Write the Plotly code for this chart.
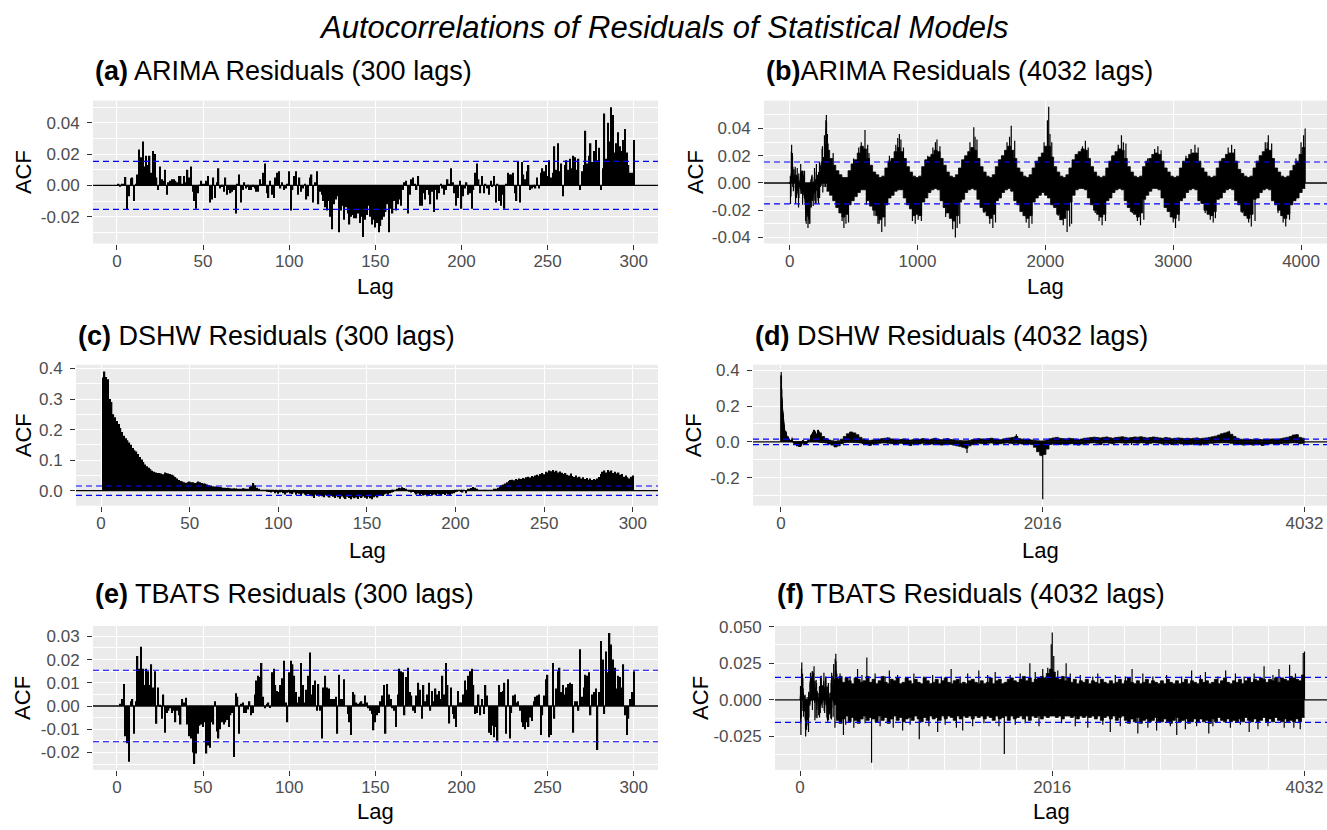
import plotly.graph_objects as go

FONT = "Liberation Sans, Arial, Helvetica, sans-serif"
W, H = 1327, 830

# ---------------- data ----------------
lags300 = list(range(1, 301))

acf_arima_300 = [
    0.0005, -0.0008, 0.0006, 0.0010, 0.0054, -0.0155, -0.0070, 0.0045, 0.0050, -0.0100,
    0.0005, 0.0070, 0.0230, 0.0180, 0.0280, 0.0120, 0.0190, 0.0130, 0.0190, 0.0080,
    0.0220, 0.0200, 0.0050, -0.0030, 0.0120, 0.0040, 0.0030, 0.0100, -0.0060, 0.0020,
    0.0030, 0.0040, 0.0040, 0.0030, 0.0020, 0.0060, 0.0060, 0.0010, 0.0060, 0.0020,
    0.0100, 0.0050, 0.0120, -0.0040, -0.0100, -0.0150, -0.0050, 0.0003, 0.0030, 0.0010,
    0.0005, 0.0030, 0.0060, -0.0110, -0.0090, 0.0050, -0.0080, 0.0020, 0.0110, -0.0020,
    -0.0010, -0.0040, 0.0050, -0.0060, -0.0030, -0.0050, -0.0040, -0.0030, -0.0180, 0.0005,
    0.0070, -0.0110, -0.0030, 0.0020, -0.0020, -0.0010, -0.0030, -0.0030, -0.0010, -0.0020,
    -0.0040, -0.0040, 0.0040, 0.0005, 0.0080, 0.0140, -0.0050, -0.0080, 0.0030, -0.0060,
    -0.0080, 0.0050, 0.0080, 0.0090, -0.0020, 0.0020, -0.0030, -0.0020, 0.0005, 0.0090,
    -0.0160, -0.0030, 0.0060, 0.0090, -0.0060, 0.0050, -0.0040, -0.0020, 0.0005, -0.0090,
    -0.0070, 0.0050, 0.0070, -0.0110, 0.0020, 0.0090, -0.0120, -0.0040, -0.0060, -0.0100,
    -0.0140, -0.0160, -0.0100, -0.0200, -0.0280, -0.0120, -0.0090, -0.0070, -0.0300, -0.0160,
    -0.0130, -0.0220, -0.0140, -0.0180, -0.0250, -0.0200, -0.0190, -0.0210, -0.0210, -0.0180,
    -0.0240, -0.0200, -0.0330, -0.0220, -0.0190, -0.0130, -0.0200, -0.0250, -0.0220, -0.0270,
    -0.0240, -0.0300, -0.0260, -0.0220, -0.0200, -0.0170, -0.0120, -0.0300, -0.0150, -0.0180,
    -0.0100, -0.0160, -0.0120, -0.0090, -0.0130, -0.0030, 0.0020, 0.0030, -0.0180, -0.0060,
    0.0040, 0.0050, 0.0005, -0.0030, 0.0060, -0.0130, -0.0130, -0.0050, -0.0090, -0.0030,
    -0.0060, -0.0120, -0.0040, -0.0170, -0.0030, -0.0090, -0.0050, 0.0010, -0.0020, -0.0060,
    -0.0030, 0.0040, 0.0010, 0.0110, 0.0020, -0.0050, -0.0130, -0.0080, 0.0030, -0.0150,
    -0.0070, -0.0020, 0.0020, -0.0060, -0.0050, -0.0150, -0.0030, 0.0080, 0.0140, 0.0040,
    -0.0050, 0.0060, -0.0050, 0.0010, -0.0020, -0.0060, 0.0030, -0.0010, 0.0060, -0.0110,
    0.0005, -0.0100, -0.0130, -0.0060, -0.0150, 0.0005, 0.0080, 0.0070, 0.0070, 0.0080,
    -0.0050, -0.0100, 0.0150, -0.0110, 0.0150, 0.0070, 0.0040, 0.0090, 0.0130, -0.0030,
    -0.0020, -0.0010, -0.0020, 0.0050, -0.0020, 0.0080, 0.0110, 0.0090, 0.0130, 0.0060,
    0.0160, 0.0050, 0.0080, 0.0250, 0.0100, 0.0270, 0.0090, 0.0140, -0.0070, 0.0130,
    0.0160, 0.0100, 0.0170, 0.0110, 0.0190, 0.0180, 0.0100, 0.0170, -0.0030, 0.0090,
    0.0130, 0.0350, 0.0140, 0.0190, 0.0270, 0.0150, 0.0220, 0.0290, 0.0160, 0.0240,
    -0.0030, 0.0110, 0.0460, 0.0170, 0.0400, 0.0280, 0.0500, 0.0450, 0.0210, 0.0270,
    0.0340, 0.0250, 0.0220, 0.0290, 0.0360, 0.0210, 0.0130, 0.0080, 0.0080, 0.0290,
]

acf_dshw_300 = [
    0.370, 0.390, 0.372, 0.365, 0.300, 0.290, 0.250, 0.240, 0.228, 0.218,
    0.205, 0.192, 0.180, 0.172, 0.165, 0.158, 0.150, 0.140, 0.132, 0.128,
    0.120, 0.110, 0.102, 0.094, 0.086, 0.080, 0.075, 0.070, 0.065, 0.062,
    0.060, 0.058, 0.058, 0.056, 0.054, 0.060, 0.058, 0.056, 0.055, 0.052,
    0.050, 0.045, 0.040, 0.035, 0.032, 0.030, 0.028, 0.026, 0.028, 0.030,
    0.028, 0.028, 0.025, 0.027, 0.030, 0.028, 0.025, 0.024, 0.023, 0.020,
    0.018, 0.016, 0.015, 0.014, 0.014, 0.013, 0.012, 0.011, 0.010, 0.010,
    0.009, 0.010, 0.008, 0.007, 0.008, 0.007, 0.006, 0.006, 0.006, 0.008,
    0.007, 0.006, 0.005, 0.012, 0.015, 0.025, 0.018, 0.010, 0.006, 0.003,
    0.002, 0.001, 0.0005, -0.002, -0.004, -0.006, -0.003, -0.008, -0.005, -0.010,
    -0.006, -0.004, -0.008, -0.012, -0.007, -0.005, -0.009, -0.011, -0.006, -0.013,
    -0.008, -0.010, -0.015, -0.009, -0.012, -0.016, -0.011, -0.014, -0.018, -0.024,
    -0.013, -0.016, -0.019, -0.014, -0.018, -0.021, -0.015, -0.019, -0.022, -0.017,
    -0.020, -0.024, -0.018, -0.021, -0.026, -0.019, -0.023, -0.027, -0.020, -0.024,
    -0.028, -0.021, -0.025, -0.022, -0.027, -0.020, -0.024, -0.019, -0.023, -0.026,
    -0.020, -0.025, -0.028, -0.021, -0.018, -0.022, -0.016, -0.014, -0.017, -0.012,
    -0.010, -0.013, -0.008, -0.006, -0.004, 0.002, 0.006, 0.010, 0.008, 0.011,
    0.009, 0.004, 0.002, -0.003, -0.006, -0.004, -0.008, -0.012, -0.009, -0.014,
    -0.011, -0.016, -0.013, -0.018, -0.014, -0.011, -0.016, -0.012, -0.015, -0.010,
    -0.013, -0.017, -0.011, -0.014, -0.009, -0.012, -0.016, -0.010, -0.008, -0.005,
    -0.003, 0.002, -0.004, -0.006, 0.003, -0.008, 0.004, 0.006, 0.009, 0.012,
    0.010, 0.006, 0.003, 0.001, 0.002, 0.001, 0.002, 0.001, 0.002, 0.003,
    0.002, 0.004, 0.006, 0.010, 0.014, 0.018, 0.020, 0.024, 0.028, 0.032,
    0.035, 0.036, 0.034, 0.038, 0.036, 0.040, 0.038, 0.042, 0.040, 0.044,
    0.046, 0.043, 0.048, 0.046, 0.050, 0.052, 0.049, 0.055, 0.058, 0.054,
    0.062, 0.060, 0.066, 0.064, 0.068, 0.062, 0.065, 0.060, 0.063, 0.059,
    0.055, 0.058, 0.052, 0.050, 0.056, 0.048, 0.045, 0.050, 0.043, 0.046,
    0.040, 0.044, 0.038, 0.042, 0.036, 0.040, 0.035, 0.038, 0.036, 0.040,
    0.045, 0.055, 0.062, 0.066, 0.060, 0.068, 0.063, 0.066, 0.058, 0.062,
    0.056, 0.060, 0.052, 0.055, 0.046, 0.050, 0.044, 0.040, 0.046, 0.050,
]

acf_tbats_300 = [
    0.000, 0.001,
    0.003, 0.0095, -0.013, -0.016, -0.024, 0.002, 0.003, -0.012, 0.002, 0.0215,
    0.016, 0.0255, 0.016, 0.009, 0.016, 0.015, 0.009, 0.018, 0.008, 0.015,
    -0.0077, 0.008, 0.0005, -0.0055, 0.005, -0.0115, -0.003, -0.002, -0.001, -0.003,
    -0.002,
    -0.007, -0.002, -0.004, -0.008, 0.003, 0.0015, 0.0035, -0.008, -0.013, -0.014,
    -0.020, -0.025, -0.0205, -0.012, -0.0085, -0.008, -0.009, -0.007, -0.0205, -0.017,
    -0.018, -0.007, -0.008, 0.002, -0.011, -0.014, -0.010, -0.007, -0.008, -0.007,
    -0.006,
    -0.009, -0.004, -0.003, -0.022, 0.0055, 0.004, -0.012, 0.001, 0.0015, -0.003,
    -0.003, -0.0015, 0.002, -0.004, -0.003, 0.005, 0.011, 0.013, 0.0125, 0.0185,
    0.004,
    -0.001, 0.001, 0.0015, -0.0005, 0.0145, 0.016, 0.009, 0.0065, 0.006, 0.009,
    0.012, 0.0195, 0.0015, -0.007, 0.0145, 0.0195, 0.018, 0.013, 0.006, 0.0015,
    0.004,
    0.0185, 0.009, 0.0015, 0.007, 0.013, 0.023, 0.005, 0.009, 0.011, -0.002,
    0.0095, -0.002, -0.014, 0.008, 0.013, 0.008, 0.0075, 0.003, 0.003,
    0.003, 0.004, -0.012, 0.0135, 0.003, 0.003, 0.0115, 0.0, -0.0035, -0.007,
    -0.0125, 0.006, 0.005, 0.0015, 0.001, 0.0015, 0.002, 0.001, 0.0045, 0.0015,
    -0.001, -0.002, -0.0035, -0.0105, -0.007, -0.004, -0.003, 0.002, 0.0045, 0.009,
    -0.012, 0.0095, 0.005, 0.003, -0.001, -0.002, -0.009, 0.005, 0.016, 0.015,
    0.0145, -0.004, 0.0125, 0.0165, 0.006, 0.0045, -0.002, -0.003, 0.0045, 0.010,
    0.007, -0.0055, 0.009, 0.002, 0.005, 0.010, -0.002, 0.0065, 0.002, 0.0075,
    0.005, 0.0065, 0.003, 0.013, 0.005, 0.0185, 0.009, -0.0075, 0.008, -0.0035,
    -0.0055, -0.009, 0.0065, 0.0015, 0.0015, 0.005, 0.011, 0.007, 0.013, 0.015,
    0.016, 0.009, -0.0035, -0.003, 0.005, -0.004, 0.003, -0.0035, 0.009, 0.0045,
    -0.0115, -0.0125, -0.0085, -0.0135, -0.009, -0.015, 0.009, 0.006, 0.0065, 0.010,
    -0.012, 0.0115, -0.014, -0.003, 0.0045, 0.005, 0.0015, 0.002, -0.002, -0.007,
    -0.009, -0.010, -0.007, -0.009, -0.005, -0.0065, 0.002, 0.004, 0.0045, 0.005,
    -0.0125, -0.004, 0.0045, 0.0115, 0.0135, -0.0135, -0.0125, 0.0185, -0.0055, 0.0075,
    0.015, 0.0165, 0.006, 0.009, 0.005, 0.008, 0.0095, 0.010, 0.0095, -0.0115,
    0.002, 0.002, -0.002, 0.0245, 0.004, 0.008, 0.0135, 0.013, 0.0145, -0.004,
    0.005, 0.006, 0.0075, -0.019, 0.006, 0.028, 0.020, -0.0035, 0.0235, 0.0145,
    0.0315, 0.0265, 0.020, 0.0165, 0.0075, 0.013, 0.0125, 0.008, 0.018, -0.004,
    -0.0125, -0.0055, 0.003, 0.006, 0.015,
]

# 4032-lag panels: lags 1-300 come from the arrays above; lags 289-4032 are
# summarised as the upper / lower edge of the dense bar band in 24-lag bins,
# plus the individual lags that stick out of that band
BIN = 24
bin_starts = list(range(289, 4033, BIN))

arima_hi = [
    0.024, 0.018, 0.013, 0.009, 0.006, 0.004, 0.004, 0.009, 0.014, 0.017, 0.022, 0.027,
    0.025, 0.018, 0.013, 0.008, 0.006, 0.004, 0.005, 0.011, 0.016, 0.018, 0.023, 0.026,
    0.023, 0.018, 0.012, 0.008, 0.005, 0.004, 0.005, 0.012, 0.017, 0.019, 0.021, 0.024,
    0.023, 0.018, 0.013, 0.008, 0.005, 0.004, 0.006, 0.011, 0.017, 0.020, 0.023, 0.026,
    0.024, 0.018, 0.012, 0.008, 0.005, 0.004, 0.006, 0.012, 0.017, 0.020, 0.024, 0.027,
    0.024, 0.018, 0.011, 0.008, 0.005, 0.004, 0.006, 0.011, 0.016, 0.019, 0.022, 0.027,
    0.027, 0.019, 0.012, 0.008, 0.005, 0.004, 0.006, 0.011, 0.017, 0.021, 0.023, 0.025,
    0.024, 0.018, 0.012, 0.008, 0.005, 0.004, 0.005, 0.011, 0.016, 0.020, 0.023, 0.025,
    0.024, 0.018, 0.012, 0.008, 0.005, 0.004, 0.005, 0.012, 0.016, 0.018, 0.021, 0.022,
    0.021, 0.016, 0.011, 0.008, 0.005, 0.004, 0.005, 0.011, 0.016, 0.018, 0.021, 0.022,
    0.022, 0.016, 0.011, 0.008, 0.005, 0.004, 0.005, 0.011, 0.016, 0.018, 0.021, 0.022,
    0.022, 0.016, 0.010, 0.007, 0.005, 0.004, 0.005, 0.011, 0.016, 0.020, 0.023, 0.025,
    0.024, 0.018, 0.011, 0.008, 0.005, 0.004, 0.005, 0.009, 0.013, 0.016, 0.021, 0.026,
]
arima_lo = [
    -0.006, -0.009, -0.013, -0.018, -0.022, -0.025, -0.023, -0.016, -0.013, -0.010, -0.007, -0.005,
    -0.005, -0.013, -0.017, -0.020, -0.024, -0.027, -0.025, -0.016, -0.011, -0.009, -0.006, -0.005,
    -0.005, -0.011, -0.016, -0.019, -0.024, -0.023, -0.024, -0.014, -0.011, -0.007, -0.005, -0.004,
    -0.005, -0.013, -0.018, -0.022, -0.026, -0.028, -0.024, -0.014, -0.012, -0.007, -0.005, -0.004,
    -0.005, -0.012, -0.018, -0.021, -0.024, -0.026, -0.023, -0.013, -0.011, -0.007, -0.005, -0.004,
    -0.006, -0.013, -0.016, -0.021, -0.024, -0.026, -0.024, -0.014, -0.011, -0.009, -0.007, -0.009,
    -0.011, -0.016, -0.018, -0.023, -0.027, -0.026, -0.020, -0.014, -0.009, -0.005, -0.004, -0.004,
    -0.005, -0.011, -0.016, -0.020, -0.023, -0.025, -0.023, -0.013, -0.011, -0.007, -0.005, -0.004,
    -0.005, -0.013, -0.018, -0.021, -0.023, -0.025, -0.022, -0.012, -0.009, -0.006, -0.004, -0.004,
    -0.005, -0.011, -0.018, -0.021, -0.025, -0.026, -0.023, -0.013, -0.011, -0.007, -0.005, -0.004,
    -0.005, -0.013, -0.015, -0.020, -0.023, -0.024, -0.021, -0.012, -0.011, -0.007, -0.005, -0.004,
    -0.005, -0.013, -0.016, -0.021, -0.024, -0.026, -0.023, -0.012, -0.011, -0.007, -0.005, -0.004,
    -0.005, -0.013, -0.016, -0.020, -0.024, -0.026, -0.023, -0.016, -0.013, -0.011, -0.007, -0.004,
]
arima_spike_lags = [
    340, 410, 424, 440, 460, 500, 540, 560, 589, 600, 610, 620, 660, 690, 700, 720, 745, 780,
    830, 845, 858, 870, 890, 960, 982, 1005, 1030, 1080, 1120, 1140, 1152, 1175, 1220, 1275,
    1296, 1310, 1330, 1370, 1410, 1440, 1450, 1465, 1520, 1565, 1589, 1610, 1660, 1700, 1720,
    1733, 1760, 1850, 1872, 1895, 1990, 2016, 2026, 2036, 2050, 2100, 2140, 2170, 2190, 2205,
    2240, 2290, 2313, 2335, 2390, 2420, 2444, 2470, 2520, 2570, 2595, 2610, 2630, 2680, 2720,
    2744, 2770, 2800, 2855, 2880, 2905, 2960, 3000, 3018, 3045, 3100, 3140, 3170, 3195, 3250,
    3290, 3313, 3330, 3380, 3430, 3457, 3480, 3540, 3590, 3611, 3640, 3680, 3720, 3735, 3744,
    3770, 3820, 3860, 3880, 3910, 3960, 4000, 4020, 4032]
arima_spike_vals = [
    0.022, -0.028, -0.033, -0.030, -0.029, 0.018, 0.026, 0.030, 0.039, -0.016, 0.028, 0.022,
    -0.024, -0.030, -0.030, -0.036, -0.032, 0.020, 0.028, 0.033, 0.036, 0.032, 0.026, -0.028,
    -0.030, -0.027, -0.028, 0.020, 0.026, 0.030, 0.032, 0.027, -0.025, -0.034, -0.040, -0.033,
    -0.030, 0.018, 0.030, 0.041, 0.034, 0.032, -0.022, -0.030, -0.033, -0.029, 0.020, 0.030,
    0.034, 0.042, 0.031, -0.029, -0.033, -0.030, 0.030, 0.046, 0.056, 0.036, 0.030, -0.024,
    -0.031, -0.036, -0.032, -0.030, 0.018, 0.027, 0.031, 0.026, -0.022, -0.028, -0.031, -0.028,
    0.020, 0.028, 0.035, 0.030, 0.029, -0.022, -0.028, -0.031, -0.027, 0.018, 0.025, 0.027,
    0.024, -0.020, -0.029, -0.033, -0.028, 0.020, 0.025, 0.028, 0.026, -0.022, -0.027, -0.029,
    -0.026, 0.018, 0.026, 0.028, 0.025, -0.022, -0.029, -0.032, -0.028, 0.020, 0.030, 0.030,
    0.035, 0.029, -0.022, -0.029, -0.032, -0.027, 0.018, 0.030, 0.035, 0.040]

dshw_hi = [
    0.050, 0.030, 0.018, 0.010, 0.006, 0.004, 0.006, 0.015, 0.030, 0.045, 0.055, 0.050,
    0.040, 0.025, 0.015, 0.010, 0.008, 0.010, 0.012, 0.015, 0.018, 0.020, 0.022, 0.016,
    0.012, 0.010, 0.014, 0.016, 0.012, 0.010, 0.012, 0.016, 0.014, 0.018, 0.015, 0.012,
    0.016, 0.020, 0.014, 0.012, 0.015, 0.018, 0.013, 0.010, 0.008, 0.008, 0.006, 0.006,
    0.008, 0.012, 0.015, 0.018, 0.016, 0.014, 0.018, 0.020, 0.016, 0.014, 0.012, 0.016,
    0.020, 0.022, 0.025, 0.030, 0.018, 0.015, 0.012, 0.015, 0.010, 0.008, 0.006, 0.005,
    0.006, 0.010, 0.018, 0.022, 0.025, 0.020, 0.018, 0.016, 0.020, 0.018, 0.015, 0.012,
    0.016, 0.020, 0.022, 0.024, 0.026, 0.024, 0.022, 0.025, 0.027, 0.023, 0.020, 0.024,
    0.026, 0.028, 0.025, 0.022, 0.024, 0.027, 0.026, 0.028, 0.025, 0.022, 0.024, 0.027,
    0.025, 0.022, 0.020, 0.024, 0.022, 0.018, 0.020, 0.022, 0.020, 0.018, 0.020, 0.018,
    0.020, 0.022, 0.018, 0.020, 0.022, 0.025, 0.028, 0.032, 0.038, 0.045, 0.050, 0.055,
    0.042, 0.030, 0.020, 0.015, 0.012, 0.015, 0.014, 0.012, 0.016, 0.014, 0.012, 0.014,
    0.015, 0.016, 0.014, 0.015, 0.018, 0.022, 0.025, 0.030, 0.038, 0.040, 0.025, 0.020,
]
dshw_lo = [
    -0.002, -0.004, -0.006, -0.012, -0.018, -0.028, -0.022, -0.010, -0.004, -0.002, -0.002, -0.003,
    -0.004, -0.006, -0.010, -0.012, -0.020, -0.012, -0.010, -0.008, -0.006, -0.006, -0.008, -0.010,
    -0.012, -0.010, -0.008, -0.012, -0.015, -0.020, -0.012, -0.010, -0.012, -0.008, -0.010, -0.014,
    -0.012, -0.010, -0.015, -0.018, -0.012, -0.010, -0.014, -0.018, -0.022, -0.025, -0.030, -0.035,
    -0.022, -0.015, -0.010, -0.008, -0.010, -0.012, -0.008, -0.006, -0.010, -0.012, -0.010, -0.008,
    -0.006, -0.008, -0.010, -0.008, -0.010, -0.012, -0.010, -0.012, -0.015, -0.030, -0.055, -0.075,
    -0.070, -0.040, -0.015, -0.010, -0.012, -0.015, -0.012, -0.016, -0.012, -0.010, -0.014, -0.018,
    -0.012, -0.010, -0.008, -0.006, -0.005, -0.008, -0.015, -0.006, -0.005, -0.008, -0.010, -0.006,
    -0.005, -0.006, -0.008, -0.006, -0.005, -0.006, -0.008, -0.005, -0.006, -0.010, -0.008, -0.005,
    -0.006, -0.008, -0.012, -0.008, -0.010, -0.015, -0.010, -0.008, -0.012, -0.010, -0.012, -0.014,
    -0.010, -0.012, -0.018, -0.012, -0.010, -0.008, -0.008, -0.006, -0.006, -0.005, -0.005, -0.006,
    -0.008, -0.010, -0.012, -0.015, -0.018, -0.012, -0.015, -0.018, -0.012, -0.015, -0.020, -0.015,
    -0.012, -0.010, -0.012, -0.015, -0.010, -0.008, -0.008, -0.006, -0.005, -0.006, -0.010, -0.008,
]
dshw_spike_lags = [820, 1000, 1433, 1813, 2010, 2016, 2700, 3100, 3452, 3974]
dshw_spike_vals = [0.025, -0.022, -0.062, 0.042, -0.080, -0.320, -0.018, -0.020, 0.062, 0.042]

tbats_hi = [
    0.014, 0.016, 0.012, 0.015, 0.013, 0.011, 0.015, 0.014, 0.012, 0.013, 0.016, 0.012,
    0.014, 0.011, 0.013, 0.016, 0.012, 0.011, 0.014, 0.013, 0.015, 0.011, 0.012, 0.015,
    0.013, 0.011, 0.014, 0.012, 0.011, 0.015, 0.013, 0.011, 0.012, 0.014, 0.011, 0.013,
    0.015, 0.012, 0.011, 0.013, 0.014, 0.011, 0.012, 0.011, 0.013, 0.014, 0.012, 0.011,
    0.013, 0.011, 0.012, 0.015, 0.011, 0.013, 0.014, 0.011, 0.012, 0.014, 0.015, 0.013,
    0.012, 0.014, 0.016, 0.013, 0.015, 0.012, 0.014, 0.015, 0.016, 0.015, 0.018, 0.021,
    0.019, 0.015, 0.014, 0.016, 0.013, 0.015, 0.012, 0.014, 0.011, 0.013, 0.012, 0.014,
    0.011, 0.013, 0.012, 0.011, 0.014, 0.012, 0.011, 0.013, 0.011, 0.012, 0.014, 0.011,
    0.013, 0.015, 0.012, 0.011, 0.013, 0.011, 0.012, 0.014, 0.011, 0.013, 0.012, 0.011,
    0.013, 0.011, 0.014, 0.012, 0.011, 0.013, 0.011, 0.012, 0.014, 0.011, 0.013, 0.012,
    0.011, 0.014, 0.012, 0.013, 0.011, 0.012, 0.014, 0.011, 0.013, 0.015, 0.012, 0.011,
    0.013, 0.012, 0.014, 0.011, 0.013, 0.015, 0.012, 0.014, 0.013, 0.015, 0.014, 0.012,
    0.014, 0.013, 0.015, 0.012, 0.015, 0.014, 0.013, 0.016, 0.015, 0.014, 0.013, 0.017,
]
tbats_lo = [
    -0.014, -0.016, -0.013, -0.011, -0.015, -0.012, -0.014, -0.016, -0.013, -0.011, -0.014, -0.012,
    -0.013, -0.015, -0.011, -0.014, -0.012, -0.016, -0.013, -0.011, -0.014, -0.012, -0.015, -0.013,
    -0.012, -0.014, -0.011, -0.013, -0.015, -0.012, -0.014, -0.011, -0.013, -0.012, -0.014, -0.011,
    -0.013, -0.011, -0.012, -0.014, -0.011, -0.013, -0.011, -0.012, -0.011, -0.013, -0.011, -0.012,
    -0.011, -0.013, -0.011, -0.012, -0.014, -0.011, -0.013, -0.012, -0.011, -0.014, -0.011, -0.013,
    -0.012, -0.011, -0.013, -0.011, -0.014, -0.011, -0.012, -0.011, -0.013, -0.011, -0.012, -0.011,
    -0.011, -0.012, -0.011, -0.013, -0.011, -0.011, -0.012, -0.011, -0.013, -0.011, -0.012, -0.011,
    -0.012, -0.011, -0.013, -0.011, -0.014, -0.012, -0.011, -0.013, -0.011, -0.014, -0.012, -0.011,
    -0.014, -0.016, -0.013, -0.015, -0.012, -0.016, -0.014, -0.013, -0.015, -0.014, -0.012, -0.015,
    -0.015, -0.013, -0.015, -0.016, -0.014, -0.012, -0.015, -0.014, -0.013, -0.016, -0.015, -0.013,
    -0.015, -0.013, -0.015, -0.014, -0.016, -0.013, -0.015, -0.012, -0.014, -0.015, -0.013, -0.015,
    -0.014, -0.015, -0.013, -0.015, -0.012, -0.014, -0.015, -0.013, -0.015, -0.014, -0.012, -0.015,
    -0.013, -0.015, -0.012, -0.014, -0.015, -0.013, -0.015, -0.014, -0.015, -0.013, -0.015, -0.012,
]
tbats_spike_lags = [
    320, 347, 365, 400, 430, 460, 495, 520, 534, 572, 600, 640, 680, 714, 745, 780, 820, 850,
    880, 910, 953, 990, 1030, 1060, 1100, 1130, 1160, 1208, 1250, 1280, 1300, 1340, 1380,
    1429, 1470, 1500, 1560, 1590, 1633, 1680, 1720, 1760, 1800, 1837, 1880, 1910, 1940, 1980,
    2008, 2016, 2028, 2060, 2090, 2127, 2160, 2200, 2240, 2300, 2340, 2380, 2420, 2480, 2520,
    2560, 2600, 2654, 2700, 2740, 2780, 2820, 2850, 2930, 2960, 3011, 3050, 3080, 3130, 3170,
    3200, 3240, 3267, 3300, 3340, 3402, 3440, 3480, 3520, 3550, 3590, 3630, 3660, 3709, 3740,
    3780, 3828, 3870, 3913, 3947, 3960, 3998, 4022, 4032]
tbats_spike_vals = [
    0.018, -0.024, -0.017, 0.016, -0.019, 0.021, 0.017, -0.016, 0.029, -0.043, 0.018, -0.018,
    0.016, 0.020, -0.019, 0.017, -0.021, 0.015, -0.017, 0.018, -0.027, 0.016, -0.018, 0.017,
    -0.022, 0.016, -0.017, 0.021, -0.019, 0.016, -0.021, 0.018, -0.018, 0.020, -0.016, 0.017,
    0.019, -0.018, -0.037, 0.017, -0.017, 0.018, -0.016, 0.025, 0.019, -0.018, 0.021, 0.022,
    0.038, 0.046, 0.030, 0.020, -0.016, 0.025, 0.018, -0.018, 0.017, -0.019, 0.016, 0.018,
    -0.017, -0.022, 0.017, -0.018, 0.016, 0.021, -0.023, 0.018, -0.019, 0.016, -0.021, 0.017,
    -0.018, -0.024, 0.016, -0.020, 0.020, -0.018, 0.017, 0.019, -0.023, -0.018, 0.016, 0.020,
    -0.019, 0.018, -0.017, 0.016, -0.022, 0.018, -0.020, 0.023, -0.018, 0.017, 0.021, -0.019,
    0.024, -0.019, 0.018, -0.020, 0.032, 0.033]

CI = 0.0154

titles = {
    "a": "<b>(a)</b> ARIMA Residuals (300 lags)",
    "b": "<b>(b)</b>ARIMA Residuals (4032 lags)",
    "c": "<b>(c)</b> DSHW Residuals (300 lags)",
    "d": "<b>(d)</b> DSHW Residuals (4032 lags)",
    "e": "<b>(e)</b> TBATS Residuals (300 lags)",
    "f": "<b>(f)</b> TBATS Residuals (4032 lags)",
}
main_title = "Autocorrelations of Residuals of Statistical Models"

# ---------------- layout geometry (pixels) ----------------
panels = {
    #     idx  left right  top  bottom
    "a": (1, 93, 658, 94, 239),
    "b": (2, 764, 1327, 94, 239),
    "c": (3, 76, 658, 362, 505),
    "d": (4, 753, 1327, 362, 505),
    "e": (5, 93, 658, 627, 773),
    "f": (6, 775, 1327, 627, 773),
}
lag_title_y = {"a": 283, "b": 283, "c": 550, "d": 550, "e": 815, "f": 815}
title_y = {"a": 64, "b": 64, "c": 333, "d": 333, "e": 595, "f": 595}
acf_x = {"a": 23, "c": 23, "e": 23, "b": 695, "d": 693, "f": 701}

fig = go.Figure()


def ax_names(i):
    return ("x" if i == 1 else f"x{i}"), ("y" if i == 1 else f"y{i}")


def add_bars300(key, vals):
    i = panels[key][0]
    xa, ya = ax_names(i)
    fig.add_trace(go.Bar(x=lags300[:len(vals)], y=vals, width=0.8,
                         marker=dict(color="black", line=dict(width=0)),
                         xaxis=xa, yaxis=ya, hoverinfo="skip"))


def add_long(key, first300, hi, lo, sl, sv):
    i = panels[key][0]
    xa, ya = ax_names(i)
    edges = [s - 0.5 for s in bin_starts] + [bin_starts[-1] + BIN - 0.5]
    for env in (hi, lo):
        fig.add_trace(go.Scatter(x=edges, y=env + [env[-1]], mode="lines",
                                 line=dict(color="black", width=0.8, shape="hv"),
                                 fill="tozeroy", fillcolor="black",
                                 xaxis=xa, yaxis=ya, hoverinfo="skip"))
    xs, ys = [], []
    for l, v in zip(lags300, first300):
        xs += [l, l, None]
        ys += [0, v, None]
    for l, v in zip(sl, sv):
        xs += [l, l, None]
        ys += [0, v, None]
    fig.add_trace(go.Scatter(x=xs, y=ys, mode="lines",
                             line=dict(color="black", width=1.2),
                             xaxis=xa, yaxis=ya, hoverinfo="skip"))


add_bars300("a", acf_arima_300)
add_bars300("c", acf_dshw_300)
add_bars300("e", acf_tbats_300)
add_long("b", acf_arima_300, arima_hi, arima_lo, arima_spike_lags, arima_spike_vals)
add_long("d", acf_dshw_300, dshw_hi, dshw_lo, dshw_spike_lags, dshw_spike_vals)
add_long("f", acf_tbats_300, tbats_hi, tbats_lo, tbats_spike_lags, tbats_spike_vals)

x300_ticks = dict(tickvals=[0, 50, 100, 150, 200, 250, 300],
                  ticktext=["0", "50", "100", "150", "200", "250", "300"], minor=None)
axis_cfg = {
    "a": (dict(x300_ticks, range=[-13.9, 314.1]),
          dict(range=[-0.0372, 0.0542], tickvals=[-0.02, 0, 0.02, 0.04],
               ticktext=["-0.02", "0.00", "0.02", "0.04"],
               minor=[-0.03, -0.01, 0.01, 0.03, 0.05])),
    "b": (dict(range=[-201, 4203], tickvals=[0, 1000, 2000, 3000, 4000],
               ticktext=["0", "1000", "2000", "3000", "4000"], minor=None),
          dict(range=[-0.0445, 0.0605], tickvals=[-0.04, -0.02, 0, 0.02, 0.04],
               ticktext=["-0.04", "-0.02", "0.00", "0.02", "0.04"],
               minor=[-0.03, -0.01, 0.01, 0.03, 0.05])),
    "c": (dict(x300_ticks, range=[-14.1, 314.2]),
          dict(range=[-0.049, 0.412], tickvals=[0, 0.1, 0.2, 0.3, 0.4],
               ticktext=["0.0", "0.1", "0.2", "0.3", "0.4"],
               minor=[0.05, 0.15, 0.25, 0.35])),
    "d": (dict(range=[-215, 4205], tickvals=[0, 2016, 4032],
               ticktext=["0", "2016", "4032"], minor=None),
          dict(range=[-0.356, 0.43], tickvals=[-0.2, 0, 0.2, 0.4],
               ticktext=["-0.2", "0.0", "0.2", "0.4"],
               minor=[-0.3, -0.1, 0.1, 0.3])),
    "e": (dict(x300_ticks, range=[-13.9, 314.1]),
          dict(range=[-0.0275, 0.0345], tickvals=[-0.02, -0.01, 0, 0.01, 0.02, 0.03],
               ticktext=["-0.02", "-0.01", "0.00", "0.01", "0.02", "0.03"],
               minor=[-0.025, -0.015, -0.005, 0.005, 0.015, 0.025])),
    "f": (dict(range=[-200, 4212], tickvals=[0, 2016, 4032],
               ticktext=["0", "2016", "4032"],
               minor=[288 * k for k in range(1, 14) if k != 7]),
          dict(range=[-0.0478, 0.0505], tickvals=[-0.025, 0, 0.025, 0.05],
               ticktext=["-0.025", "0.000", "0.025", "0.050"],
               minor=[-0.0375, -0.0125, 0.0125, 0.0375])),
}

common = dict(showgrid=True, gridcolor="white", gridwidth=1.3, zeroline=False,
              showline=False, ticks="outside", ticklen=5, tickwidth=1.1,
              tickcolor="#333333", tickmode="array",
              tickfont=dict(family=FONT, size=17, color="#4D4D4D"))

layout = {}
shapes = []
annotations = []
for key, (i, l, r, t, b) in panels.items():
    xcfg, ycfg = axis_cfg[key]
    xa, ya = ax_names(i)
    xd = dict(common, domain=[l / W, r / W], anchor=ya, range=xcfg["range"],
              tickvals=xcfg["tickvals"], ticktext=xcfg["ticktext"],
              ticklabelstandoff=-3)
    if xcfg["minor"]:
        xd["minor"] = dict(tickmode="array", tickvals=xcfg["minor"], showgrid=True,
                           gridcolor="white", gridwidth=0.6, ticks="")
    yd = dict(common, domain=[1 - b / H, 1 - t / H], anchor=xa, range=ycfg["range"],
              tickvals=ycfg["tickvals"], ticktext=ycfg["ticktext"],
              ticklabelstandoff=4,
              minor=dict(tickmode="array", tickvals=ycfg["minor"], showgrid=True,
                         gridcolor="white", gridwidth=0.6, ticks=""))
    layout["xaxis" if i == 1 else f"xaxis{i}"] = xd
    layout["yaxis" if i == 1 else f"yaxis{i}"] = yd

    xref_dom = f"{xa} domain"
    shapes.append(dict(type="line", xref=xref_dom, yref=ya, x0=0, x1=1, y0=0, y1=0,
                       line=dict(color="black", width=1.3)))
    for c in (CI, -CI):
        shapes.append(dict(type="line", xref=xref_dom, yref=ya, x0=0, x1=1, y0=c, y1=c,
                           line=dict(color="#0000FF", width=1.2, dash="6px,4px")))

    annotations.append(dict(text=titles[key], x=l / W, y=1 - title_y[key] / H,
                            xref="paper", yref="paper", xanchor="left", yanchor="middle",
                            showarrow=False, font=dict(family=FONT, size=27, color="black")))
    annotations.append(dict(text="Lag", x=(l + r) / 2 / W, y=1 - lag_title_y[key] / H,
                            xref="paper", yref="paper", xanchor="center", yanchor="middle",
                            showarrow=False, font=dict(family=FONT, size=22, color="black")))
    annotations.append(dict(text="ACF", x=acf_x[key] / W, y=1 - (t + b) / 2 / H,
                            xref="paper", yref="paper", xanchor="center", yanchor="middle",
                            textangle=-90, showarrow=False,
                            font=dict(family=FONT, size=22, color="black")))

annotations.append(dict(text=f"<i>{main_title}</i>", x=0.5, y=1 - 20 / H,
                        xref="paper", yref="paper", xanchor="center", yanchor="middle",
                        showarrow=False, font=dict(family=FONT, size=31, color="black")))

fig.update_layout(width=W, height=H, margin=dict(l=0, r=0, t=0, b=0),
                  paper_bgcolor="white", plot_bgcolor="#EBEBEB", showlegend=False,
                  barmode="overlay", shapes=shapes, annotations=annotations, **layout)

fig.write_html("out.html")
